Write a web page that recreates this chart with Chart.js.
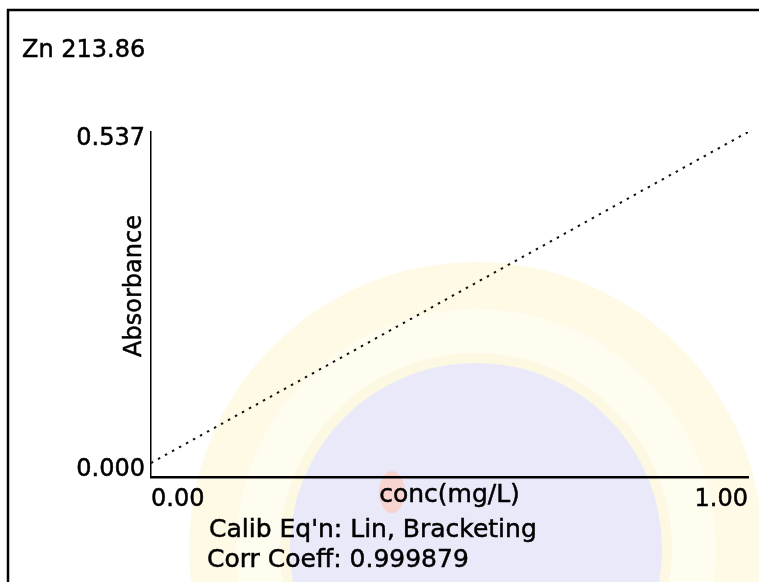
<!DOCTYPE html>
<html>
<head>
<meta charset="utf-8">
<script src="https://cdn.jsdelivr.net/npm/chart.js@4.4.0/dist/chart.umd.min.js"></script>
<style>
  html, body { margin: 0; padding: 0; background: #fff; }
  #wrap { width: 759px; height: 582px; position: relative; }
</style>
</head>
<body>
<div id="wrap"><canvas id="c" width="759" height="582"></canvas></div>
<script>
// Calibration data: standards at the bracketing concentrations
const concentrations = [0.00, 1.00];   // mg/L
const absorbances    = [0.000, 0.537];

// Axis tick values
const xTickValues = [0.00, 1.00];
const yTickValues = [0.000, 0.537];

// Texts
const chartTitle = 'Zn 213.86';
const xTitle = 'conc(mg/L)';
const yTitle = 'Absorbance';
const notes = ["Calib Eq'n: Lin, Bracketing", 'Corr Coeff: 0.999879'];

const FONT = 'DejaVu Sans, sans-serif';
const FONT_SIZE = 24;
const NOTE_SIZE = 25;

// Background seal, frame and free-standing texts
const decorations = {
  id: 'decorations',
  beforeDraw(chart) {
    const ctx = chart.ctx;
    ctx.save();
    ctx.fillStyle = '#ffffff';
    ctx.fillRect(0, 0, chart.width, chart.height);

    // faint seal behind the plot
    ctx.fillStyle = '#fefae6';
    ctx.beginPath(); ctx.arc(476, 549, 287, 0, Math.PI * 2); ctx.fill();
    ctx.fillStyle = '#fffcf0';
    ctx.beginPath(); ctx.arc(476, 549, 240, 0, Math.PI * 2); ctx.fill();
    ctx.fillStyle = '#fdf8e2';
    ctx.beginPath(); ctx.arc(476, 549, 196, 0, Math.PI * 2); ctx.fill();
    ctx.fillStyle = '#e9e9fa';
    ctx.beginPath(); ctx.arc(476, 549, 186, 0, Math.PI * 2); ctx.fill();
    ctx.fillStyle = '#f8d4d0';
    ctx.beginPath(); ctx.ellipse(392, 492, 13, 21, 0, 0, Math.PI * 2); ctx.fill();

    // frame
    ctx.strokeStyle = '#000';
    ctx.lineWidth = 2.5;
    ctx.beginPath();
    ctx.moveTo(8, 582);
    ctx.lineTo(8, 10);
    ctx.lineTo(759, 10);
    ctx.stroke();
    ctx.restore();
  },
  afterDraw(chart) {
    const ctx = chart.ctx;
    const area = chart.chartArea;
    ctx.save();
    ctx.fillStyle = '#000';
    ctx.strokeStyle = '#000';
    ctx.lineWidth = 0.5;
    ctx.textBaseline = 'alphabetic';

    const put = (text, x, y, size) => {
      ctx.font = size + 'px ' + FONT;
      ctx.fillText(text, x, y);
      ctx.strokeText(text, x, y);
    };

    ctx.textAlign = 'left';
    put(chartTitle, 22, 57, FONT_SIZE);

    ctx.textAlign = 'center';
    put(xTitle, (area.left + area.right) / 2, 502, NOTE_SIZE);

    ctx.textAlign = 'left';
    put(notes[0], 209, 537, NOTE_SIZE);
    put(notes[1], 207, 567, NOTE_SIZE);

    // rotated y-axis title
    ctx.translate(141, 286);
    ctx.rotate(-Math.PI / 2);
    ctx.textAlign = 'center';
    put(yTitle, 0, 0, FONT_SIZE);
    ctx.restore();
  }
};

new Chart(document.getElementById('c'), {
  type: 'scatter',
  data: {
    datasets: [{
      data: concentrations.map((x, i) => ({ x: x, y: absorbances[i] })),
      showLine: true,
      borderColor: '#111',
      borderWidth: 2,
      borderDash: [2.5, 5.5],
      pointRadius: 0,
      fill: false
    }]
  },
  options: {
    responsive: false,
    animation: false,
    devicePixelRatio: 1,
    layout: { padding: { left: 0, top: 132, right: 11, bottom: 0 } },
    plugins: {
      legend: { display: false },
      tooltip: { enabled: false },
      title: { display: false }
    },
    scales: {
      x: {
        type: 'linear',
        min: 0,
        max: 1,
        afterBuildTicks: s => { s.ticks = xTickValues.map(v => ({ value: v })); },
        afterFit: s => { s.height = 105; },
        grid: { display: false, drawTicks: false },
        border: { display: true, color: '#000', width: 2.5 },
        ticks: {
          align: 'inner',
          autoSkip: false,
          maxRotation: 0,
          padding: 8,
          color: '#000',
          textStrokeColor: '#000',
          textStrokeWidth: 0.5,
          font: { family: FONT, size: FONT_SIZE },
          callback: v => Number(v).toFixed(2)
        }
      },
      y: {
        type: 'linear',
        min: -0.0227,
        max: 0.537,
        afterBuildTicks: s => { s.ticks = yTickValues.map(v => ({ value: v })); },
        afterFit: s => { s.width = 151; },
        grid: { display: false, drawTicks: false },
        border: { display: true, color: '#000', width: 1.5 },
        ticks: {
          autoSkip: false,
          padding: 6,
          labelOffset: 7,
          color: '#000',
          textStrokeColor: '#000',
          textStrokeWidth: 0.5,
          font: { family: FONT, size: FONT_SIZE },
          callback: v => Number(v).toFixed(3)
        }
      }
    }
  },
  plugins: [decorations]
});
</script>
</body>
</html>
